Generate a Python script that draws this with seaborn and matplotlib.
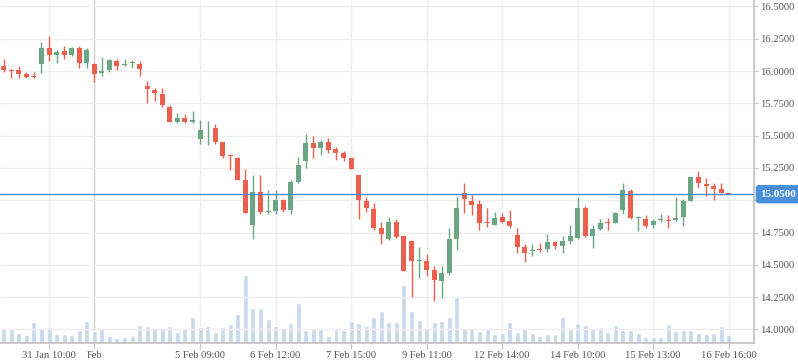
import numpy as np
import pandas as pd
import seaborn as sns
import matplotlib.pyplot as plt

# hourly OHLC (one entry per candle)
opens = [16.039, 16.010, 16.008, 15.977, 15.953, 16.057, 16.178, 16.126, 16.155, 16.126,
         16.178, 16.064, 16.056, 15.987, 16.008, 16.077, 16.044, 16.060, 16.054, 15.884,
         15.853, 15.822, 15.721, 15.608, 15.636, 15.608, 15.476, 15.556, 15.559, 15.450,
         15.345, 15.327, 15.156, 14.810, 15.063, 14.909, 14.914, 15.002, 14.926, 15.141,
         15.306, 15.443, 15.404, 15.450, 15.396, 15.365, 15.327, 15.195, 14.994, 14.932,
         14.785, 14.697, 14.831, 14.723, 14.684, 14.533, 14.529, 14.460, 14.375, 14.437,
         14.700, 15.056, 14.994, 14.971, 14.824, 14.808, 14.870, 14.839, 14.731, 14.638,
         14.608, 14.614, 14.622, 14.676, 14.646, 14.684, 14.708, 14.940, 14.723, 14.777,
         14.825, 14.824, 14.924, 15.071, 14.861, 14.855, 14.808, 14.845, 14.841, 14.845,
         14.872, 14.996, 15.180, 15.125, 15.110, 15.087, 15.053]
highs = [16.093, 16.015, 16.039, 15.992, 15.992, 16.224, 16.271, 16.163, 16.194, 16.186,
         16.194, 16.178, 16.064, 16.108, 16.093, 16.093, 16.093, 16.083, 16.077, 15.923,
         15.868, 15.868, 15.737, 15.675, 15.667, 15.690, 15.621, 15.613, 15.590, 15.450,
         15.350, 15.334, 15.241, 15.195, 15.195, 15.079, 15.079, 15.009, 15.156, 15.334,
         15.512, 15.497, 15.468, 15.481, 15.412, 15.381, 15.327, 15.195, 15.025, 14.978,
         14.831, 14.870, 14.855, 14.723, 14.684, 14.638, 14.584, 14.491, 14.491, 14.785,
         15.025, 15.133, 15.040, 15.002, 14.940, 14.909, 14.901, 14.924, 14.785, 14.661,
         14.661, 14.669, 14.738, 14.684, 14.723, 14.808, 15.025, 14.955, 14.808, 14.855,
         14.862, 14.909, 15.133, 15.087, 14.878, 14.885, 14.855, 14.893, 14.885, 15.025,
         15.009, 15.180, 15.226, 15.172, 15.133, 15.133, 15.055]
lows = [15.992, 15.948, 15.948, 15.948, 15.948, 15.987, 16.077, 16.064, 16.093, 16.118,
        16.023, 16.023, 15.917, 15.964, 15.992, 16.010, 16.041, 16.026, 15.964, 15.755,
        15.770, 15.724, 15.608, 15.600, 15.600, 15.600, 15.437, 15.430, 15.437, 15.329,
        15.237, 15.159, 14.903, 14.702, 14.896, 14.896, 14.896, 14.911, 14.896, 15.131,
        15.252, 15.327, 15.350, 15.365, 15.311, 15.303, 15.244, 14.855, 14.909, 14.769,
        14.661, 14.690, 14.705, 14.452, 14.251, 14.398, 14.413, 14.220, 14.243, 14.421,
        14.615, 14.901, 14.885, 14.769, 14.793, 14.808, 14.824, 14.785, 14.591, 14.522,
        14.570, 14.601, 14.599, 14.622, 14.591, 14.661, 14.700, 14.715, 14.630, 14.769,
        14.769, 14.824, 14.893, 14.857, 14.762, 14.785, 14.785, 14.831, 14.787, 14.837,
        14.803, 14.996, 15.097, 15.030, 15.004, 15.053, 15.048]
closes = [16.008, 16.002, 15.979, 15.956, 15.951, 16.178, 16.126, 16.147, 16.126, 16.178,
          16.064, 16.163, 15.979, 16.000, 16.085, 16.041, 16.046, 16.062, 16.018, 15.863,
          15.832, 15.739, 15.608, 15.636, 15.608, 15.621, 15.543, 15.559, 15.453, 15.344,
          15.343, 15.159, 14.903, 15.063, 14.911, 14.911, 15.001, 14.924, 15.141, 15.272,
          15.443, 15.404, 15.450, 15.389, 15.365, 15.327, 15.244, 15.000, 14.940, 14.785,
          14.738, 14.831, 14.717, 14.452, 14.529, 14.535, 14.460, 14.382, 14.437, 14.700,
          14.940, 15.009, 14.963, 14.824, 14.821, 14.862, 14.831, 14.800, 14.638, 14.591,
          14.610, 14.612, 14.676, 14.648, 14.684, 14.723, 14.940, 14.723, 14.777, 14.824,
          14.823, 14.901, 15.079, 14.865, 14.862, 14.800, 14.839, 14.847, 14.839, 14.862,
          14.994, 15.180, 15.135, 15.112, 15.089, 15.058, 15.050]
volume = [143, 143, 103, 83, 213, 153, 163, 93, 93, 83,
          133, 223, 123, 153, 73, 53, 63, 73, 183, 173,
          153, 153, 173, 113, 153, 263, 163, 173, 113, 163,
          193, 293, 683, 353, 353, 243, 173, 153, 203, 403,
          133, 143, 143, 73, 143, 133, 223, 203, 173, 263,
          323, 213, 213, 583, 323, 233, 153, 213, 223, 263,
          463, 143, 153, 123, 143, 93, 103, 213, 113, 153,
          103, 73, 93, 93, 263, 143, 203, 183, 143, 163,
          113, 183, 133, 133, 103, 63, 63, 63, 193, 123,
          133, 133, 103, 93, 103, 173, 83]

tick_pos = [6, 12, 26, 36, 46, 56, 66, 76, 86, 96]
tick_labels = ["31 Jan 10:00", "Feb", "5 Feb 09:00", "6 Feb 12:00", "7 Feb 15:00",
               "9 Feb 11:00", "12 Feb 14:00", "14 Feb 10:00", "15 Feb 13:00", "16 Feb 16:00"]
price_ticks = [14.0, 14.25, 14.5, 14.75, 15.0, 15.25, 15.5, 15.75, 16.0, 16.25, 16.5]
last_price = 15.05

df = pd.DataFrame({"open": opens, "high": highs, "low": lows, "close": closes, "volume": volume})
df["idx"] = np.arange(len(df))
up = df["close"] >= df["open"]

sns.set_theme(style="white")
plt.rcParams["font.family"] = ["Liberation Serif", "DejaVu Serif"]

GREEN = "#6ba583"
RED = "#ea5f4e"
GRID = "#efefef"
AXIS = "#c4c4c4"
TXT = "#555555"
BLUE = "#4a8fd9"

fig = plt.figure(figsize=(7.98, 3.63), dpi=100)
ax_vol = fig.add_axes([0, 20 / 363, 754 / 798, 343 / 363])
ax = ax_vol.twinx()

# volume bars
sns.barplot(data=df, x="idx", y="volume", ax=ax_vol, color="#c9d8eb",
            saturation=1, width=0.66, zorder=1)
ax_vol.set_ylim(0, df["volume"].max() * 5.02)
ax_vol.set_xlim(-0.49, 99.35)
ax_vol.set_yticks([])
ax_vol.set_xlabel("")
ax_vol.set_ylabel("")
ax_vol.set_xticks(tick_pos)
ax_vol.set_xticklabels(tick_labels)
ax_vol.tick_params(axis="x", length=4, width=0.8, color=AXIS, pad=1.5,
                   labelsize=7.6, labelcolor=TXT, bottom=True)
ax_vol.grid(axis="x", color=GRID, linewidth=1)
ax_vol.set_axisbelow(True)
for i, gl in enumerate(ax_vol.get_xgridlines()):
    if tick_labels[i] == "Feb":
        gl.set_color("#cfcfcf")
for side in ["left", "top", "right"]:
    ax_vol.spines[side].set_visible(False)
ax_vol.spines["bottom"].set_color(AXIS)

# candles
colors = np.where(up, GREEN, RED)
ax.vlines(df["idx"], df["low"], df["high"], colors=colors, linewidth=1, zorder=3)
body_lo = np.minimum(df["open"], df["close"])
body_h = np.maximum((df["close"] - df["open"]).abs(), 0.007)
ax.bar(df["idx"], body_h, bottom=body_lo, width=0.66, color=colors, linewidth=0, zorder=4)

ax.axhline(last_price, color=BLUE, linewidth=1, zorder=5)
ax.annotate(f"{last_price:.4f}", xy=(1, last_price), xycoords=("axes fraction", "data"),
            xytext=(4.6, -0.3), textcoords="offset points", ha="left", va="center",
            color="white", fontsize=8, fontweight="bold", annotation_clip=False,
            bbox=dict(boxstyle="round,pad=0.42,rounding_size=0.3", fc=BLUE, ec="none"))

ax.set_ylim(13.895, 16.55)
ax.set_yticks(price_ticks)
ax.set_yticklabels(["" if abs(p - 15.0) < 1e-9 else f"{p:.4f}" for p in price_ticks])
ax.tick_params(axis="y", right=True, length=3, width=0.8, color=AXIS, pad=1,
               labelsize=7.6, labelcolor=TXT)
ax.grid(axis="y", color=GRID, linewidth=1)
ax.set_axisbelow(True)
for side in ["left", "top", "bottom"]:
    ax.spines[side].set_visible(False)
ax.spines["right"].set_color(AXIS)

fig.savefig("out.png", dpi=100)
